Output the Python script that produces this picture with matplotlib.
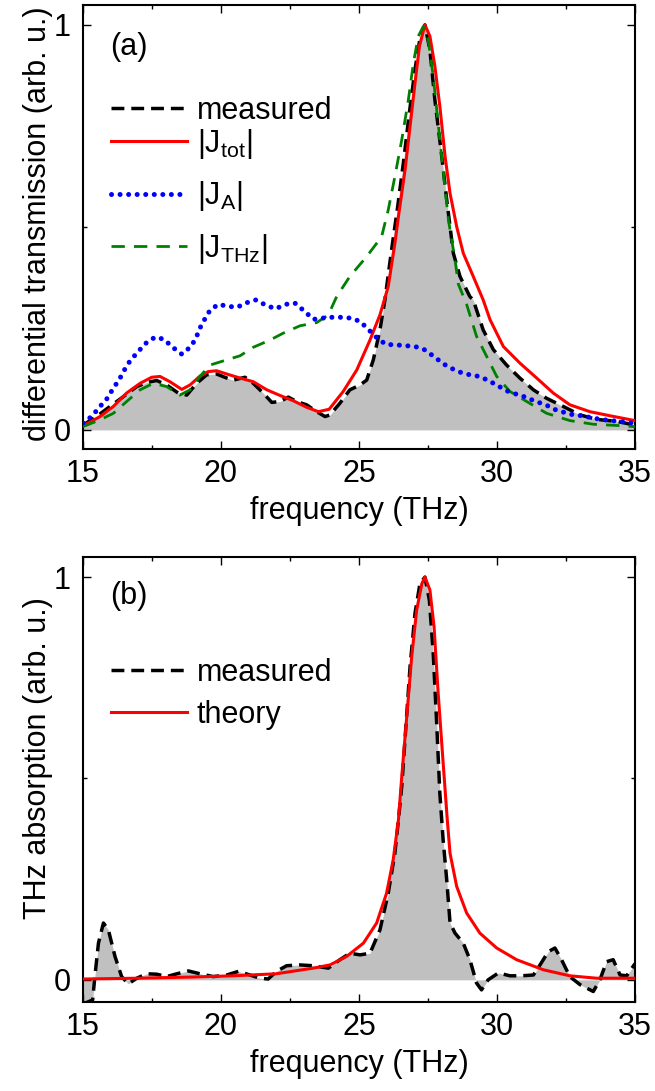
import numpy as np
import matplotlib
matplotlib.use("Agg")
import matplotlib.pyplot as plt
from matplotlib.ticker import MultipleLocator

plt.rcParams['font.family'] = ['Liberation Sans', 'DejaVu Sans']
plt.rcParams['mathtext.fontset'] = 'custom'
plt.rcParams['mathtext.rm'] = 'Liberation Sans'
plt.rcParams['mathtext.it'] = 'Liberation Sans:italic'
plt.rcParams['font.size'] = 22

# panel (a) data
meas_a_f = [15.0, 15.49, 15.98, 16.46, 16.95, 17.31, 17.67, 18.03, 18.45, 18.76, 19.12, 19.48, 19.84,
            20.21, 20.45, 20.87, 21.17, 21.53, 21.84, 22.14, 22.44, 22.74, 23.10, 23.47, 23.77, 23.95,
            24.31, 24.67, 25.04, 25.28, 25.52, 25.76, 25.94, 26.18, 26.40, 26.61, 26.82, 27.03, 27.23,
            27.39, 27.57, 27.75, 28.0, 28.18, 28.42, 28.66, 28.78, 29.02, 29.14, 29.50, 29.87, 30.35,
            30.83, 31.32, 31.80, 32.40, 33.01, 33.61, 34.34, 35.0]
meas_a = [0.012, 0.033, 0.058, 0.082, 0.107, 0.117, 0.122, 0.111, 0.091, 0.086, 0.115, 0.136, 0.138,
          0.128, 0.123, 0.130, 0.115, 0.091, 0.068, 0.070, 0.081, 0.070, 0.062, 0.045, 0.033, 0.037,
          0.066, 0.099, 0.111, 0.123, 0.173, 0.247, 0.321, 0.444, 0.55, 0.66, 0.78, 0.89, 0.975,
          1.0, 0.938, 0.815, 0.675, 0.568, 0.436, 0.379, 0.362, 0.329, 0.321, 0.247, 0.198, 0.160,
          0.128, 0.099, 0.078, 0.058, 0.037, 0.026, 0.021, 0.012]

jtot_f = [15.0, 15.62, 16.10, 16.58, 17.07, 17.49, 17.79, 18.15, 18.58, 18.88, 19.24, 19.54, 19.84,
          20.21, 20.69, 21.17, 21.66, 22.14, 22.62, 23.10, 23.53, 23.92, 24.43, 24.92, 25.40, 25.76,
          26.06, 26.30, 26.43, 26.67, 26.85, 27.03, 27.19, 27.39, 27.57, 27.75, 27.93, 28.12, 28.30,
          28.54, 28.78, 29.14, 29.50, 29.75, 30.23, 30.83, 31.44, 32.04, 32.64, 33.37, 34.09, 35.0]
jtot = [0.010, 0.033, 0.058, 0.091, 0.115, 0.130, 0.132, 0.119, 0.100, 0.111, 0.133, 0.144, 0.146,
        0.138, 0.128, 0.119, 0.099, 0.085, 0.072, 0.056, 0.045, 0.051, 0.095, 0.148, 0.222, 0.284,
        0.354, 0.46, 0.527, 0.642, 0.749, 0.856, 0.947, 1.0, 0.972, 0.898, 0.799, 0.675, 0.584,
        0.502, 0.436, 0.379, 0.321, 0.272, 0.206, 0.165, 0.128, 0.091, 0.062, 0.045, 0.035, 0.023]

ja_f = [15.0, 15.31, 15.62, 15.88, 16.10, 16.32, 16.5, 16.70, 16.98, 17.28, 17.61, 17.93, 18.25,
        18.58, 18.88, 19.09, 19.21, 19.40, 19.60, 19.90, 20.27, 20.59, 20.93, 21.27, 21.62, 21.98,
        22.34, 22.68, 23.01, 23.35, 23.92, 24.37, 24.70, 25.04, 25.34, 25.67, 25.98, 26.33, 26.67,
        27.03, 27.37, 27.72, 28.06, 28.38, 28.72, 29.02, 29.36, 29.69, 30.03, 30.37, 30.71, 31.08,
        31.40, 31.74, 32.07, 32.40, 32.77, 33.09, 33.43, 33.76, 34.12, 34.46, 34.79, 35.0]
ja = [0.017, 0.033, 0.058, 0.078, 0.103, 0.125, 0.148, 0.170, 0.192, 0.214, 0.229, 0.224, 0.204,
      0.187, 0.204, 0.225, 0.248, 0.272, 0.295, 0.310, 0.305, 0.303, 0.314, 0.321, 0.308, 0.299,
      0.310, 0.313, 0.294, 0.273, 0.278, 0.278, 0.276, 0.268, 0.248, 0.226, 0.211, 0.210, 0.208,
      0.206, 0.198, 0.181, 0.163, 0.151, 0.141, 0.136, 0.132, 0.122, 0.109, 0.096, 0.088, 0.080,
      0.070, 0.063, 0.051, 0.044, 0.037, 0.035, 0.030, 0.026, 0.023, 0.021, 0.018, 0.016]

jthz_f = [15.0, 15.62, 16.10, 16.58, 17.07, 17.55, 18.03, 18.51, 18.88, 19.24, 19.60, 20.21, 20.69,
          21.17, 21.78, 22.26, 22.86, 23.47, 23.89, 24.19, 24.67, 25.28, 25.82, 26.06, 26.30, 26.55,
          26.79, 26.97, 27.15, 27.33, 27.51, 27.69, 27.87, 28.06, 28.24, 28.48, 28.60, 28.90, 29.26,
          29.63, 29.99, 30.47, 31.08, 31.80, 32.64, 33.49, 34.34, 35.0]
jthz = [0.008, 0.025, 0.041, 0.070, 0.099, 0.115, 0.107, 0.086, 0.099, 0.132, 0.160, 0.173, 0.183,
        0.204, 0.222, 0.239, 0.257, 0.265, 0.284, 0.329, 0.379, 0.428, 0.477, 0.543, 0.625, 0.716,
        0.815, 0.905, 0.972, 0.996, 0.963, 0.873, 0.757, 0.634, 0.519, 0.420, 0.36, 0.31, 0.231,
        0.181, 0.132, 0.095, 0.070, 0.041, 0.023, 0.014, 0.011, 0.008]

# panel (b) data
meas_b_f = [15.0, 15.35, 15.43, 15.56, 15.74, 15.92, 16.16, 16.40, 16.64, 16.95, 17.31, 17.67, 18.03,
            18.40, 18.82, 19.24, 19.72, 20.21, 20.63, 21.05, 21.41, 21.71, 22.01, 22.38, 22.86, 23.34,
            23.89, 24.31, 24.67, 25.04, 25.40, 25.76, 26.06, 26.30, 26.43, 26.55, 26.70, 26.85, 27.03,
            27.21, 27.39, 27.55, 27.69, 27.81, 27.93, 28.05, 28.18, 28.30, 28.48, 28.78, 29.02, 29.26,
            29.44, 29.68, 30.05, 30.47, 30.89, 31.32, 31.56, 31.86, 32.10, 32.34, 32.64, 33.01, 33.49,
            33.73, 33.97, 34.21, 34.46, 34.70, 35.0]
meas_b = [-0.06, -0.05, 0.008, 0.091, 0.141, 0.124, 0.058, 0.008, -0.010, 0.004, 0.015, 0.014, 0.008,
          0.015, 0.022, 0.015, 0.008, 0.012, 0.021, 0.012, 0.004, 0.002, 0.021, 0.035, 0.037, 0.035,
          0.029, 0.050, 0.066, 0.062, 0.066, 0.124, 0.215, 0.314, 0.397, 0.480, 0.629, 0.777, 0.910,
          0.984, 1.0, 0.943, 0.811, 0.645, 0.463, 0.347, 0.248, 0.141, 0.116, 0.091, 0.050, -0.008,
          -0.025, 0.0, 0.017, 0.010, 0.010, 0.012, 0.037, 0.070, 0.079, 0.050, 0.008, -0.012, -0.029,
          0.0, 0.045, 0.050, 0.012, 0.010, 0.040]

theo_f = [15.0, 17.0, 19.0, 20.45, 22.0, 23.34, 23.95, 24.55, 25.16, 25.64, 26.0, 26.24, 26.43, 26.55,
          26.73, 26.91, 27.09, 27.28, 27.39, 27.57, 27.72, 27.87, 28.06, 28.20, 28.30, 28.54, 28.90,
          29.38, 29.99, 30.71, 31.68, 32.64, 33.61, 35.0]
theo = [0.002, 0.004, 0.007, 0.010, 0.015, 0.029, 0.037, 0.058, 0.091, 0.141, 0.215, 0.298, 0.397,
        0.504, 0.653, 0.802, 0.918, 0.984, 1.0, 0.968, 0.877, 0.711, 0.529, 0.397, 0.314, 0.232, 0.166,
        0.116, 0.079, 0.050, 0.025, 0.010, 0.004, 0.004]

fig = plt.figure(figsize=(6.55, 10.91), dpi=100)
ax1 = fig.add_axes([0.1267, 0.5885, 0.8427, 0.4069])
ax2 = fig.add_axes([0.1267, 0.0816, 0.8427, 0.4079])

gray = '#c0c0c0'
black_dash = (0, (3.7, 2.0))

ax1.fill_between(meas_a_f, meas_a, color=gray, lw=0, zorder=1)
l_meas, = ax1.plot(meas_a_f, meas_a, color='k', lw=2.5, ls=black_dash, label='measured', zorder=3)
l_tot, = ax1.plot(jtot_f, jtot, color='#ff0000', lw=2.2, label=r'|J$_\mathrm{tot}$|', zorder=4)
l_a, = ax1.plot(ja_f, ja, color='#0000ff', lw=3.6, ls=(0, (0.01, 1.7)), dash_capstyle='round',
                label=r'|J$_\mathrm{A}$|', zorder=5)
l_thz, = ax1.plot(jthz_f, jthz, color='#008000', lw=2.0, ls=(0, (4.8, 3.3)),
                  label=r'|J$_\mathrm{THz}$|', zorder=4)

ax2.fill_between(meas_b_f, meas_b, color=gray, lw=0, zorder=1)
ax2.plot(meas_b_f, meas_b, color='k', lw=2.5, ls=black_dash, label='measured', zorder=3)
ax2.plot(theo_f, theo, color='#ff0000', lw=2.2, label='theory', zorder=4)

for ax in (ax1, ax2):
    ax.set_xlim(15, 35)
    ax.set_xticks([15, 20, 25, 30, 35])
    ax.xaxis.set_minor_locator(MultipleLocator(2.5))
    ax.set_yticks([0, 1])
    ax.yaxis.set_minor_locator(MultipleLocator(0.5))
    ax.tick_params(which='both', direction='in', top=True, right=True, width=1)
    ax.tick_params(which='major', length=5.8)
    ax.tick_params(which='minor', length=3.2)
    ax.tick_params(axis='x', pad=7)
    ax.tick_params(axis='y', pad=9)
    for s in ax.spines.values():
        s.set_linewidth(1.5)
    ax.set_xlabel('frequency (THz)', labelpad=5)

ax1.set_ylim(-0.047, 1.049)
ax2.set_ylim(-0.055, 1.05)

ax1.set_ylabel('differential transmission (arb. u.)')
ax1.yaxis.set_label_coords(-0.055, 0.507)
ax2.set_ylabel('THz absorption (arb. u.)')
ax2.yaxis.set_label_coords(-0.055, 0.549)

ax1.text(0.049, 0.94, '(a)', transform=ax1.transAxes, va='top', ha='left')
ax2.text(0.049, 0.945, '(b)', transform=ax2.transAxes, va='top', ha='left')

leg_kw = dict(loc='upper left', frameon=False, borderpad=0, borderaxespad=0,
              handlelength=2.48, handletextpad=0.33)
leg1 = ax1.legend(handles=[l_meas], bbox_to_anchor=(0.0507, 0.795), **leg_kw)
ax1.add_artist(leg1)
ax1.legend(handles=[l_tot, l_a, l_thz], bbox_to_anchor=(0.0507, 0.725), labelspacing=0.6, **leg_kw)
ax2.legend(bbox_to_anchor=(0.0507, 0.773), labelspacing=0.39, **leg_kw)

fig.savefig('out.png', dpi=100)
